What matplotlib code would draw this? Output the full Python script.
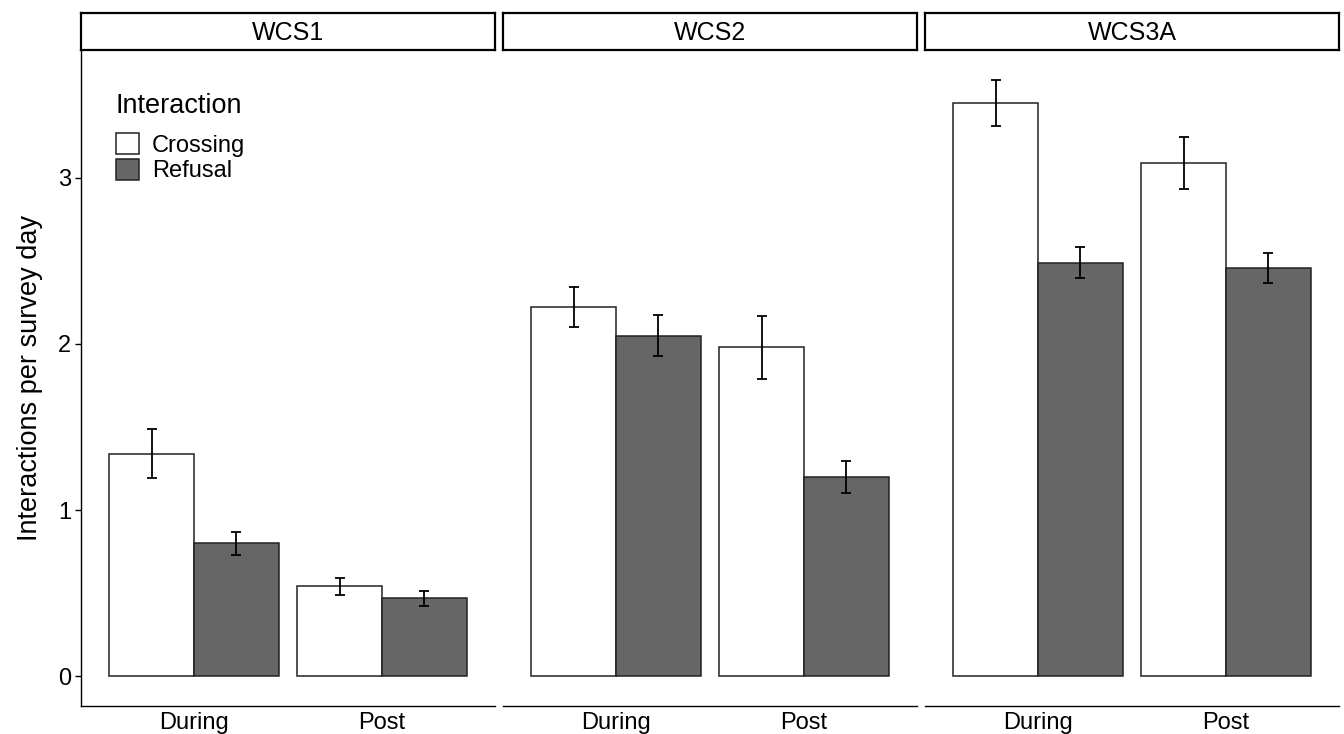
import matplotlib
matplotlib.use("Agg")
import matplotlib.pyplot as plt
from matplotlib.patches import Patch
import numpy as np

plt.rcParams['font.family'] = ['Liberation Sans', 'DejaVu Sans']

sites = ['WCS1', 'WCS2', 'WCS3A']
periods = ['During', 'Post']
interactions = ['Crossing', 'Refusal']
fills = ['white', '#666666']

# mean interactions per survey day, [site][period]
crossing_mean = [[1.34, 0.54], [2.22, 1.98], [3.45, 3.09]]
crossing_se = [[0.15, 0.05], [0.12, 0.19], [0.14, 0.155]]
refusal_mean = [[0.80, 0.47], [2.05, 1.20], [2.49, 2.46]]
refusal_se = [[0.07, 0.045], [0.125, 0.095], [0.095, 0.09]]

W, H = 1344, 734
fig = plt.figure(figsize=(W / 100, H / 100), dpi=100)

panel_left = [81, 503, 925]
panel_w = 414
panel_top, panel_bot = 50, 706
strip_top = 13

x = np.arange(len(periods)) + 1
bw = 0.45

for k, site in enumerate(sites):
    ax = fig.add_axes([panel_left[k] / W, (H - panel_bot) / H,
                       panel_w / W, (panel_bot - panel_top) / H])
    for j, (means, ses) in enumerate([(crossing_mean, crossing_se),
                                       (refusal_mean, refusal_se)]):
        xs = x + (j - 0.5) * bw
        ax.bar(xs, means[k], width=bw, color=fills[j], edgecolor='#222222',
               linewidth=1.1, zorder=2)
        ax.errorbar(xs, means[k], yerr=ses[k], fmt='none', ecolor='black',
                    elinewidth=1.3, capsize=3.3, capthick=1.3, zorder=3)
    ax.set_xlim(0.4, 2.6)
    ax.set_ylim(-0.18, 3.77)
    ax.set_xticks(x)
    ax.set_xticklabels(periods, fontsize=17)
    ax.tick_params(axis='x', length=0, pad=4)
    for s in ['top', 'right']:
        ax.spines[s].set_visible(False)
    ax.spines['bottom'].set_linewidth(1.0)
    if k == 0:
        ax.set_yticks([0, 1, 2, 3])
        ax.tick_params(axis='y', labelsize=17, length=4, width=1.0, pad=3)
        ax.spines['left'].set_linewidth(1.0)
        ax.set_ylabel('Interactions per survey day', fontsize=19.5, labelpad=11)
        handles = [Patch(facecolor=fills[i], edgecolor='#222222', linewidth=1.1,
                         label=interactions[i]) for i in range(2)]
        leg = ax.legend(handles=handles, title='Interaction', loc='upper left',
                        bbox_to_anchor=(0.055, 0.952), frameon=False, fontsize=17,
                        title_fontsize=19.5, handlelength=1.0, handleheight=1.0,
                        labelspacing=0.08, handletextpad=0.55, borderpad=0,
                        alignment='left')
        leg._legend_box.sep = 10
    else:
        ax.spines['left'].set_visible(False)
        ax.set_yticks([])

    sax = fig.add_axes([panel_left[k] / W, (H - panel_top) / H,
                        panel_w / W, (panel_top - strip_top) / H])
    sax.set_xticks([])
    sax.set_yticks([])
    for s in sax.spines.values():
        s.set_linewidth(1.6)
    sax.text(0.5, 0.45, site, ha='center', va='center', fontsize=18,
             transform=sax.transAxes)

fig.savefig('out.png', dpi=100)
